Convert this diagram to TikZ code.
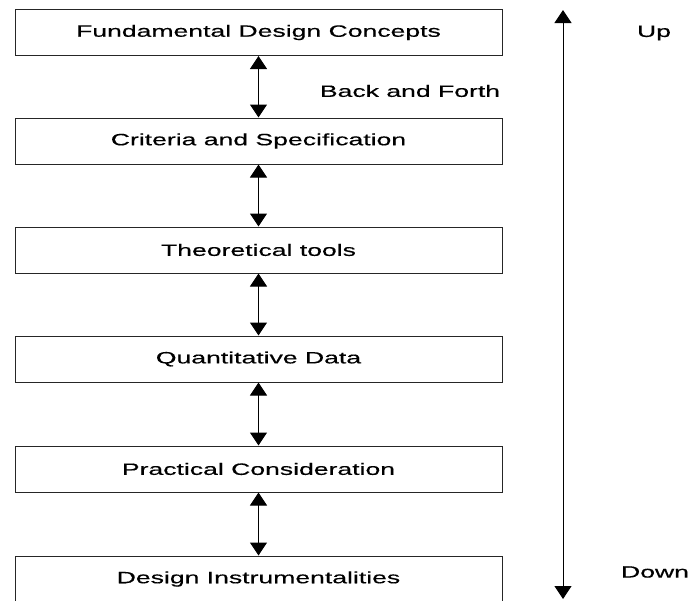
\documentclass[tikz,border=0pt]{standalone}
\usepackage{fontspec}
\setmainfont{Liberation Sans}[FakeStretch=1.62,FakeBold=0.4]
\usetikzlibrary{arrows.meta}
\begin{document}
\begin{tikzpicture}[x=1pt,y=-1pt,
  txt/.style={font=\fontsize{16.4}{19}\selectfont},
  stage/.style={txt, draw=black!85, line width=1pt, minimum width=487pt,
    minimum height=46pt, inner sep=0pt},
  link/.style={line width=1pt, {Triangle[width=17pt,length=13pt]}-{Triangle[width=17pt,length=13pt]}},
  lbl/.style={txt, inner sep=0pt}]
\useasboundingbox (0,0) rectangle (690,600);
% stages of the design hierarchy
\node[stage] (s1) at (258.5,32.5) {Fundamental Design Concepts};
\node[stage] (s2) at (258.5,141) {Criteria and Specification};
\node[stage] (s3) at (258.5,250) {Theoretical tools};
\node[stage] (s4) at (258.5,359) {Quantitative Data};
\node[stage] (s5) at (258.5,469) {Practical Consideration};
\node[stage] (s6) at (258.5,579) {Design Instrumentalities};
% two-way links between neighbouring stages
\draw[link] (s1.south) -- (s2.north);
\draw[link] (s2.south) -- (s3.north);
\draw[link] (s3.south) -- (s4.north);
\draw[link] (s4.south) -- (s5.north);
\draw[link] (s5.south) -- (s6.north);
% overall up/down axis
\coordinate (axtop) at (563,10);
\coordinate (axbot) at (563,599);
\draw[link] (axtop) -- (axbot);
\node[lbl] (up) at (654,33) {Up};
\node[lbl] (down) at (655,572) {Down};
\node[lbl] (bf) at (410,91) {Back and Forth};
\end{tikzpicture}
\end{document}
